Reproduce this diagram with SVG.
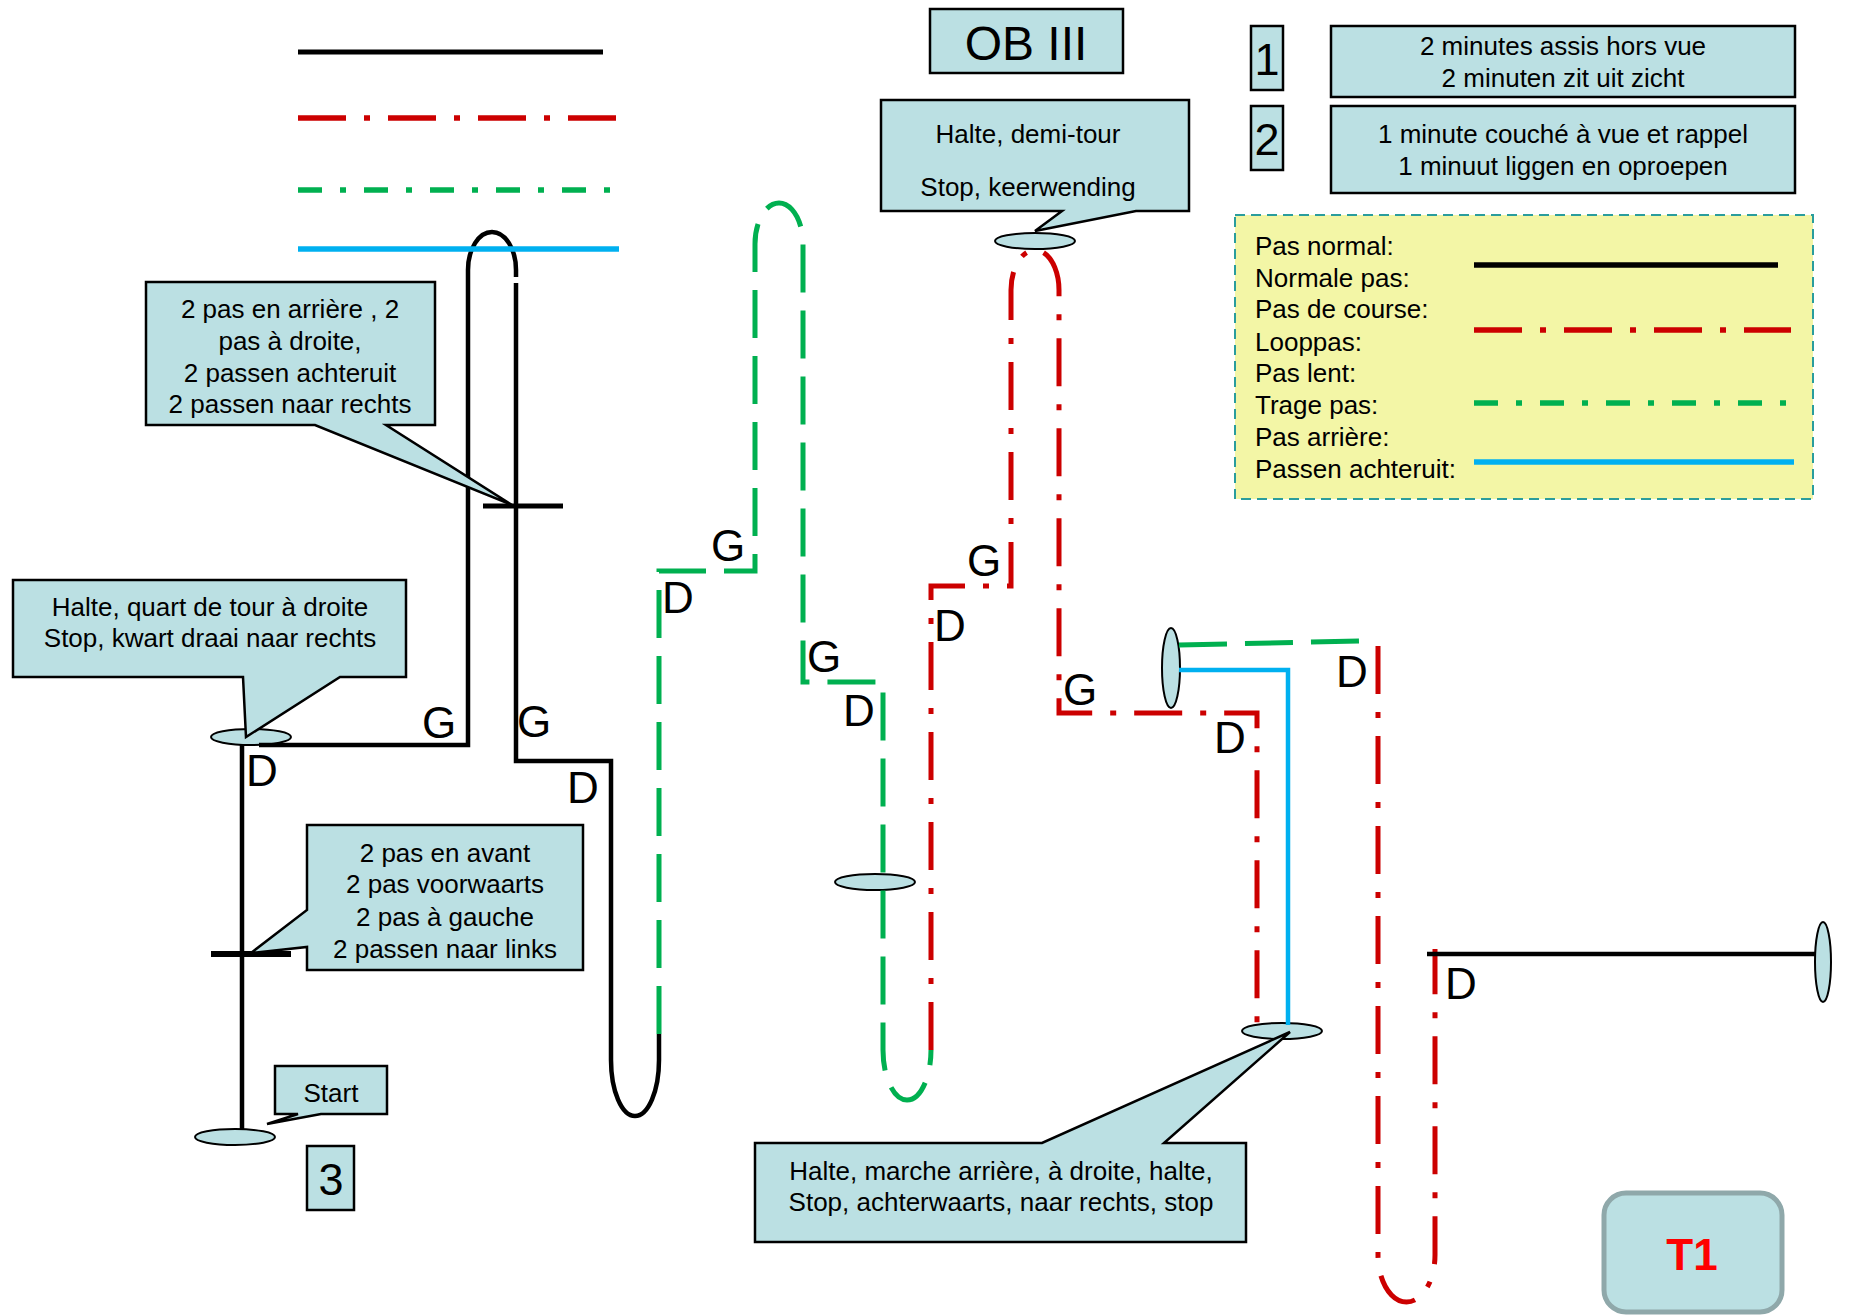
<svg xmlns="http://www.w3.org/2000/svg" width="1849" height="1315" viewBox="0 0 1849 1315">
<style>
text{font-family:"Liberation Sans",Arial,sans-serif;fill:#000}
.t26{font-size:26px}
.lbl{font-size:44px}
.mid{text-anchor:middle}
.box{fill:#bbe0e3;stroke:#000;stroke-width:2.5}
.ell{fill:#bbe0e3;stroke:#000;stroke-width:2}
.ln{fill:none;stroke-linejoin:miter;stroke-linecap:butt}
.blk{stroke:#000;stroke-width:4.5}
.red{stroke:#cc0000;stroke-width:5;stroke-dasharray:48 18 6 18}
.grn{stroke:#00b050;stroke-width:5;stroke-dasharray:48 18}
.gdd{stroke:#00b050;stroke-width:5.5;stroke-dasharray:24 18 6 18}
.blu{stroke:#00b0f0;stroke-width:4.5}
</style>
<rect width="1849" height="1315" fill="#fff"/>

<g id="markers">
<ellipse class="ell" cx="235" cy="1137" rx="40" ry="8"/>
<ellipse class="ell" cx="251" cy="737" rx="40" ry="8"/>
<ellipse class="ell" cx="875" cy="882" rx="40" ry="8"/>
<ellipse class="ell" cx="1035" cy="241" rx="40" ry="8"/>
<ellipse class="ell" cx="1171" cy="668" rx="9" ry="40"/>
<ellipse class="ell" cx="1282" cy="1031" rx="40" ry="8"/>
<ellipse class="ell" cx="1823" cy="962" rx="8" ry="40"/>
</g>

<g id="connectors">
<path class="ln blk" d="M242,1130 V745"/>
<path class="ln blk" d="M259,745 H468 V270 A24,38 0 0 1 516,270 V277"/>
<path class="ln blk" d="M516,283 V761 H611 V1060 A24,56 0 0 0 659,1060 V1034"/>
<path class="ln blk" d="M211,954 H291" style="stroke-width:6"/>
<path class="ln blk" d="M483,506 H563" style="stroke-width:5"/>
<path class="ln grn" d="M659,1034 V571 H755 V244 A24,41 0 0 1 803,244 V682 H883 V1050 A24,50 0 0 0 931,1050"/>
<path class="ln red" d="M931,1050 V586 H1011 V290 A24,40 0 0 1 1059,290 V713 H1257 V1025"/>
<path class="ln blu" d="M1288,1025 V670 H1179"/>
<path class="ln grn" d="M1179,645 L1362,641"/>
<path class="ln red" d="M1378,646 V1255 A28.5,47 0 0 0 1435,1255 V949"/>
<path class="ln blk" d="M1427,954 H1816"/>
</g>

<g id="step-labels" class="lbl">
<text x="422" y="738">G</text>
<text x="517" y="737">G</text>
<text x="246" y="786">D</text>
<text x="567" y="803">D</text>
<text x="711" y="561">G</text>
<text x="662" y="613">D</text>
<text x="807" y="672">G</text>
<text x="843" y="726">D</text>
<text x="967" y="576">G</text>
<text x="934" y="641">D</text>
<text x="1063" y="705">G</text>
<text x="1214" y="753">D</text>
<text x="1336" y="687">D</text>
<text x="1445" y="999">D</text>
</g>

<g id="legend-lines-top">
<path class="ln blk" d="M298,52 H603" style="stroke-width:5"/>
<path class="ln red" d="M298,118 H617" style="stroke-width:5.5"/>
<path class="ln gdd" d="M298,190 H613"/>
<path class="ln blu" d="M298,249 H619" style="stroke-width:5.5"/>
</g>

<g id="title">
<rect class="box" x="930" y="9" width="193" height="64"/>
<text class="mid" x="1026" y="60" style="font-size:48px">OB III</text>
</g>

<g id="num1">
<rect class="box" x="1251" y="26" width="32" height="64"/>
<text class="mid" x="1267" y="75" style="font-size:45px">1</text>
</g>
<g id="num2">
<rect class="box" x="1251" y="106" width="32" height="64"/>
<text class="mid" x="1267" y="155" style="font-size:45px">2</text>
</g>
<g id="num3">
<rect class="box" x="307" y="1146" width="47" height="64"/>
<text class="mid" x="331" y="1195" style="font-size:45px">3</text>
</g>

<g id="exercise1">
<rect class="box" x="1331" y="26" width="464" height="71"/>
<text class="t26 mid" x="1563" y="55">2 minutes assis hors vue</text>
<text class="t26 mid" x="1563" y="87">2 minuten zit uit zicht</text>
</g>
<g id="exercise2">
<rect class="box" x="1331" y="106" width="464" height="87"/>
<text class="t26 mid" x="1563" y="143">1 minute couché à vue et rappel</text>
<text class="t26 mid" x="1563" y="175">1 minuut liggen en oproepen</text>
</g>

<g id="legend">
<rect x="1235" y="215" width="578" height="284" fill="#f3f6a6" stroke="#2a9d9d" stroke-width="2" stroke-dasharray="10 6"/>
<text class="t26" x="1255" y="255">Pas normal:</text>
<text class="t26" x="1255" y="287">Normale pas:</text>
<text class="t26" x="1255" y="318">Pas de course:</text>
<text class="t26" x="1255" y="351">Looppas:</text>
<text class="t26" x="1255" y="382">Pas lent:</text>
<text class="t26" x="1255" y="414">Trage pas:</text>
<text class="t26" x="1255" y="446">Pas arrière:</text>
<text class="t26" x="1255" y="478">Passen achteruit:</text>
<path class="ln blk" d="M1474,265 H1778" style="stroke-width:5.5"/>
<path class="ln red" d="M1474,330 H1791" style="stroke-width:5.5"/>
<path class="ln gdd" d="M1474,403 H1787"/>
<path class="ln blu" d="M1474,462 H1794" style="stroke-width:5.5"/>
</g>

<g id="callout-arriere">
<path class="box" d="M146,282 H435 V425 H386 L512,505 L315,425 H146 Z"/>
<text class="t26 mid" x="290" y="318">2 pas en arrière , 2</text>
<text class="t26 mid" x="290" y="350">pas à droite,</text>
<text class="t26 mid" x="290" y="382">2 passen achteruit</text>
<text class="t26 mid" x="290" y="413">2 passen naar rechts</text>
</g>

<g id="callout-quart">
<path class="box" d="M13,580 H406 V677 H340 L246,737 L243,677 H13 Z"/>
<text class="t26 mid" x="210" y="616">Halte, quart de tour à droite</text>
<text class="t26 mid" x="210" y="647">Stop, kwart draai naar rechts</text>
</g>

<g id="callout-avant">
<path class="box" d="M307,825 H583 V970 H307 V947 L251,953 L307,910 Z"/>
<text class="t26 mid" x="445" y="862">2 pas en avant</text>
<text class="t26 mid" x="445" y="893">2 pas voorwaarts</text>
<text class="t26 mid" x="445" y="926">2 pas à gauche</text>
<text class="t26 mid" x="445" y="958">2 passen naar links</text>
</g>

<g id="callout-start">
<path class="box" d="M275,1066 H387 V1114 H321 L267,1124 L298,1114 H275 Z"/>
<text class="t26 mid" x="331" y="1102">Start</text>
</g>

<g id="callout-demitour">
<path class="box" d="M881,100 H1189 V211 H1136 L1035,231 L1062,211 H881 Z"/>
<text class="t26 mid" x="1028" y="143">Halte, demi-tour</text>
<text class="t26 mid" x="1028" y="196">Stop, keerwending</text>
</g>

<g id="callout-marche">
<path class="box" d="M755,1143 H1042 L1290,1032 L1164,1143 H1246 V1242 H755 Z"/>
<text class="t26 mid" x="1001" y="1180">Halte, marche arrière, à droite, halte,</text>
<text class="t26 mid" x="1001" y="1211">Stop, achterwaarts, naar rechts, stop</text>
</g>

<g id="t1">
<rect x="1604" y="1193" width="178" height="119" rx="22" fill="#bbe0e3" stroke="#8fa8aa" stroke-width="5"/>
<text class="mid" x="1692" y="1270" style="font-size:44px;font-weight:bold;fill:#ff0000">T1</text>
</g>
</svg>
